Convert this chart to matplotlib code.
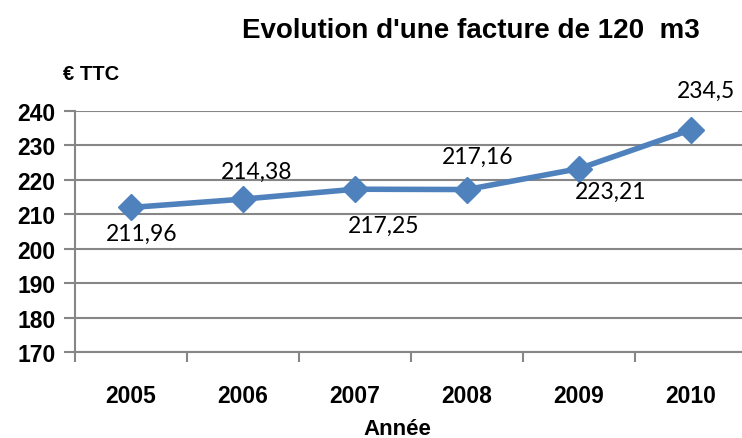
import matplotlib.pyplot as plt
from matplotlib.ticker import FixedLocator

plt.rcParams['font.family'] = ['Lato', 'DejaVu Sans']
gras = ['Liberation Sans', 'DejaVu Sans']

annees = ["2005", "2006", "2007", "2008", "2009", "2010"]
prix = [211.96, 214.38, 217.25, 217.16, 223.21, 234.5]
etiquettes = ["211,96", "214,38", "217,25", "217,16", "223,21", "234,5"]
# decalage des etiquettes (pixels)
decal = [(11, -26), (14, 28), (29, -36), (11, 33), (32, -23), (15, 39)]

bleu = "#4F81BD"
gris = "#868686"

fig = plt.figure(figsize=(7.42, 4.39), dpi=100)
ax = fig.add_axes([75 / 742, 1 - 353.3 / 439, 672 / 742, (353.3 - 111.7) / 439])

x = range(len(annees))
ax.plot(x, prix, color=bleu, lw=4, marker="D", ms=13, zorder=3)

for i, (v, t) in enumerate(zip(prix, etiquettes)):
    ax.annotate(t, (i, v), xytext=decal[i], textcoords="offset pixels",
                ha="center", va="center", fontsize=16.5, color="black")

ax.set_xlim(-0.5, 5.5)
ax.set_ylim(170, 240)
ax.set_yticks(range(170, 241, 10))
ax.set_xticks(list(x))
ax.set_xticklabels(annees, fontsize=16.5, fontweight="bold", family=gras)
ax.xaxis.set_minor_locator(FixedLocator([i - 0.5 for i in range(7)]))
ax.tick_params(axis="x", which="major", length=0, pad=23)
ax.tick_params(axis="x", which="minor", length=7, width=1.5, color=gris, direction="out")
ax.tick_params(axis="y", length=8, width=1.5, color=gris, direction="out", pad=6)
for lab in ax.get_yticklabels():
    lab.set_fontsize(16.5)
    lab.set_fontweight("bold")
    lab.set_family(gras)

ax.grid(axis="y", color=gris, lw=1.5)
for s in ["top", "right"]:
    ax.spines[s].set_visible(False)
for s in ["left", "bottom"]:
    ax.spines[s].set_color(gris)
    ax.spines[s].set_linewidth(1.5)

fig.text(397 / 742, 1 - 435 / 439, "Année", ha="center", va="baseline",
         fontsize=16, fontweight="bold", family=gras)
fig.text(471 / 742, 1 - 31 / 439, "Evolution d'une facture de 120  m3",
         ha="center", va="center", fontsize=20, fontweight="bold", family=gras)
fig.text(63 / 742, 1 - 75 / 439, "€ TTC", ha="left", va="center",
         fontsize=14.5, fontweight="bold", family=gras)

fig.savefig("out.png", dpi=100)
